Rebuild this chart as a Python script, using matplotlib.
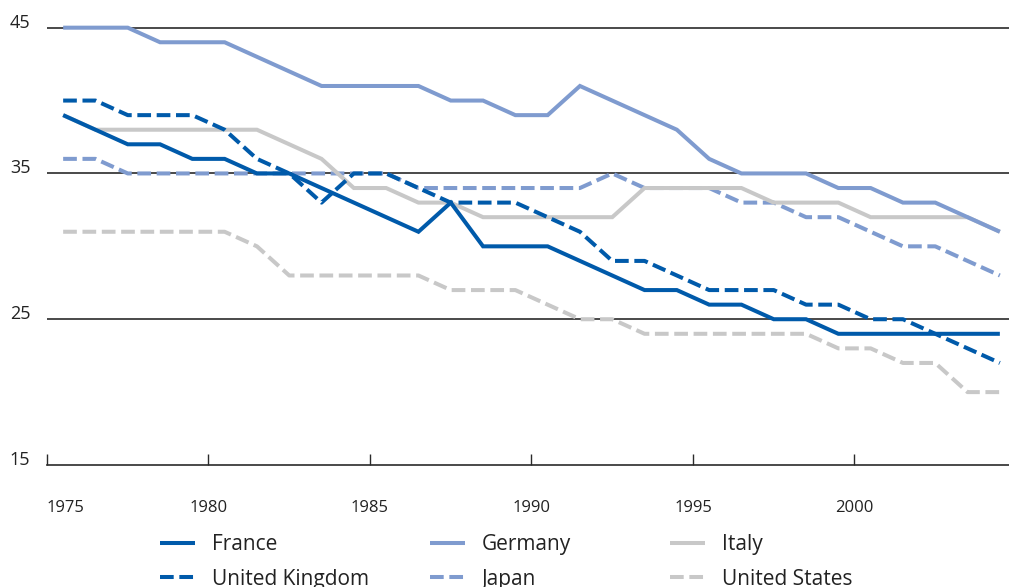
import matplotlib
matplotlib.use("Agg")
import matplotlib.pyplot as plt
import numpy as np

years = list(range(1975, 2005))
france = [39,38,37,37,36,36,35,35,34,33,32,31,33,30,30,30,29,28,27,27,26,26,25,25,24,24,24,24,24,24]
germany = [45,45,45,44,44,44,43,42,41,41,41,41,40,40,39,39,41,40,39,38,36,35,35,35,34,34,33,33,32,31]
italy = [39,38,38,38,38,38,38,37,36,34,34,33,33,32,32,32,32,32,34,34,34,34,33,33,33,32,32,32,32,31]
uk = [40,40,39,39,39,38,36,35,33,35,35,34,33,33,33,32,31,29,29,28,27,27,27,26,26,25,25,24,23,22]
japan = [36,36,35,35,35,35,35,35,35,35,35,34,34,34,34,34,34,35,34,34,34,33,33,32,32,31,30,30,29,28]
us = [31,31,31,31,31,31,30,28,28,28,28,28,27,27,27,26,25,25,24,24,24,24,24,24,23,23,22,22,20,20]

xticks = [1975, 1980, 1985, 1990, 1995, 2000]
yticks = [15, 25, 35, 45]

DARK = "#005AAA"
MID = "#7F9BCF"
GRAY = "#C8C8C8"

plt.rcParams['font.family'] = ['Open Sans', 'DejaVu Sans']

fig = plt.figure(figsize=(10.09, 5.87), dpi=100)
W, H = 1009, 587
left = 47 / W
bottom = 1 - 465 / H
top = 1 - 13.1 / H
ax = fig.add_axes([left, bottom, 1 - left, top - bottom])

x = np.array(years) + 0.5
lw = 2.9
dash = (3.4, 1.4)
series = [
    ("United States", us, GRAY, True, 1),
    ("Japan", japan, MID, True, 2),
    ("Italy", italy, GRAY, False, 3),
    ("Germany", germany, MID, False, 4),
    ("United Kingdom", uk, DARK, True, 5),
    ("France", france, DARK, False, 6),
]
handles = {}
for name, vals, col, dashed, z in series:
    ln, = ax.plot(x, vals, color=col, lw=lw, zorder=z, solid_joinstyle='miter',
                  solid_capstyle='butt', dash_capstyle='butt')
    if dashed:
        ln.set_dashes(dash)
    handles[name] = ln

for yv in yticks[1:]:
    ax.axhline(yv, color="#2a2a2a", lw=1.2, zorder=0.5)

ax.set_xlim(1975, 1975 + (W - 47) / 32.3)
ax.set_ylim(15, 46)

for s in ['left', 'right', 'top']:
    ax.spines[s].set_visible(False)
ax.spines['bottom'].set_color("#2a2a2a")
ax.spines['bottom'].set_linewidth(1.2)

ax.set_xticks(xticks)
ax.set_xticklabels([str(t) for t in xticks])
ax.tick_params(axis='x', direction='in', length=8, width=1.0, color="#2a2a2a",
               pad=25, labelsize=12, labelcolor="#222222")
xl = ax.get_xticklabels()
xl[0].set_horizontalalignment('left')

ax.set_yticks(yticks)
ax.set_yticklabels([str(t) for t in yticks])
ax.tick_params(axis='y', length=0, pad=12, labelsize=13, labelcolor="#222222")
for lab in ax.get_yticklabels():
    lab.set_verticalalignment('baseline')

cols = [["France", "United Kingdom"], ["Germany", "Japan"], ["Italy", "United States"]]
xs = [160, 430, 670]
for names, xp in zip(cols, xs):
    leg = fig.legend([handles[n] for n in names], names, loc='upper left',
                     bbox_to_anchor=(xp / W, 1 - 534 / H), frameon=False,
                     fontsize=15, handlelength=1.7, handletextpad=0.8,
                     labelspacing=0.66, borderpad=0, borderaxespad=0)
    for t in leg.get_texts():
        t.set_color("#222222")

fig.savefig("out.png", dpi=100)
